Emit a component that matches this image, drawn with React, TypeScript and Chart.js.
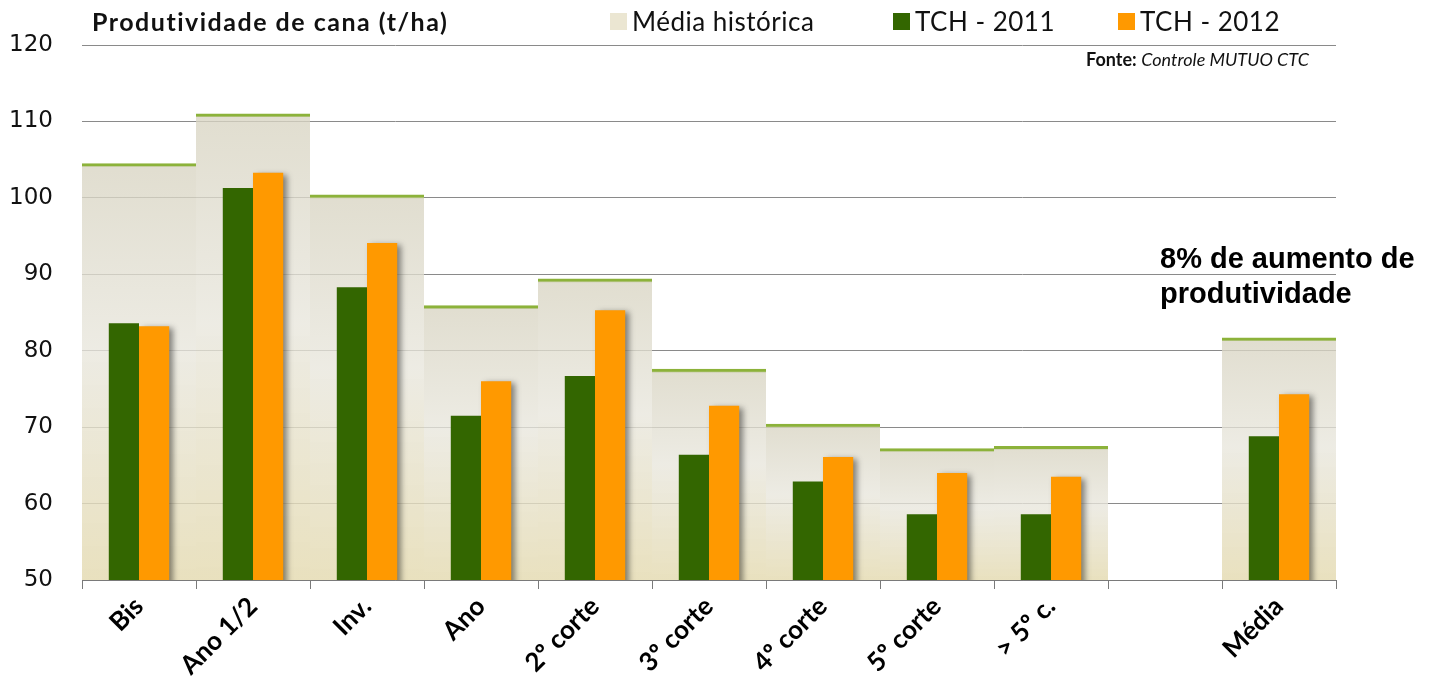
import React, { useEffect, useRef } from 'react';
import { Chart, registerables } from 'chart.js';

Chart.register(...registerables);

const categories = ['Bis', 'Ano 1/2', 'Inv.', 'Ano', '2º corte', '3º corte', '4º corte', '5º corte', '> 5º c.', '', 'Média'];
const mediaHistorica = [104.5, 111.0, 100.4, 85.9, 89.4, 77.6, 70.4, 67.2, 67.5, null, 81.7];
const tch2011 = [83.6, 101.3, 88.3, 71.5, 76.7, 66.4, 62.9, 58.6, 58.6, null, 68.8];
const tch2012 = [83.2, 103.3, 94.1, 76.0, 85.3, 72.8, 66.1, 64.0, 63.5, null, 74.3];
const yMin = 50;
const yMax = 120;
const yStep = 10;

const legendItems = [
  { label: 'Média histórica', color: '#ebe6d2', left: 610 },
  { label: 'TCH - 2011', color: '#336600', left: 893 },
  { label: 'TCH - 2012', color: '#ff9900', left: 1118 },
];

const shadowPlugin = {
  id: 'barShadow',
  beforeDatasetDraw(chart: any, args: any) {
    if (args.index !== 2) return;
    const c = chart.ctx;
    c.save();
    c.shadowColor = 'rgba(0,0,0,0.45)';
    c.shadowBlur = 6;
    c.shadowOffsetX = 4;
    c.shadowOffsetY = 2;
  },
  afterDatasetDraw(chart: any, args: any) {
    if (args.index !== 2) return;
    chart.ctx.restore();
  },
};

function bgGradient(ctx: any) {
  const chart = ctx.chart;
  const { chartArea, scales } = chart;
  if (!chartArea || ctx.type !== 'data' || ctx.raw == null) return 'rgba(220,216,200,0.78)';
  const top = scales.y.getPixelForValue(ctx.raw);
  const g = chart.ctx.createLinearGradient(0, top, 0, chartArea.bottom);
  g.addColorStop(0, 'rgba(216,212,194,0.78)');
  g.addColorStop(0.45, 'rgba(232,230,220,0.78)');
  g.addColorStop(1, 'rgba(228,218,176,0.82)');
  return g;
}

export default function App() {
  const canvasRef = useRef<HTMLCanvasElement | null>(null);

  useEffect(() => {
    document.body.style.margin = '0';
    const canvas = canvasRef.current;
    if (!canvas) return;
    const chart = new Chart(canvas, {
      type: 'bar',
      data: {
        labels: categories,
        datasets: [
          {
            label: 'Média histórica',
            data: mediaHistorica,
            backgroundColor: bgGradient,
            borderColor: '#8cb23a',
            borderWidth: { top: 3, left: 0, right: 0, bottom: 0 },
            borderSkipped: 'bottom',
            grouped: false,
            categoryPercentage: 1,
            barPercentage: 1,
            order: 2,
          },
          {
            label: 'TCH - 2011',
            data: tch2011,
            backgroundColor: '#336600',
            categoryPercentage: 0.53,
            barPercentage: 1,
            order: 1,
          },
          {
            label: 'TCH - 2012',
            data: tch2012,
            backgroundColor: '#ff9900',
            categoryPercentage: 0.53,
            barPercentage: 1,
            order: 1,
          },
        ] as any,
      },
      options: {
        responsive: false,
        animation: false,
        devicePixelRatio: 1,
        layout: { padding: { left: 0, top: 45, right: 100, bottom: 0 } },
        plugins: {
          legend: { display: false },
          title: { display: false },
          tooltip: { enabled: false },
        },
        scales: {
          x: {
            afterFit: (s: any) => { s.height = 97; },
            grid: {
              offset: true,
              drawOnChartArea: false,
              drawTicks: true,
              tickLength: 9,
              color: '#7a7a7a',
            },
            border: { display: true, color: '#7a7a7a', width: 1 },
            ticks: {
              autoSkip: false,
              maxRotation: 45,
              minRotation: 45,
              padding: 2,
              color: '#000',
              font: { family: 'Lato', size: 26, weight: 'bold' },
            },
          },
          y: {
            min: yMin,
            max: yMax,
            afterFit: (s: any) => { s.width = 82; },
            grid: { color: '#8a8a8a', drawTicks: false, lineWidth: 1 },
            border: { display: false },
            ticks: {
              stepSize: yStep,
              padding: 29,
              color: '#111',
              font: { family: 'DejaVu Sans', size: 23 },
            },
          },
        },
      },
      plugins: [shadowPlugin],
    });
    return () => chart.destroy();
  }, []);

  return (
    <div style={{ position: 'relative', width: 1436, height: 677, background: '#fff', overflow: 'hidden' }}>
      <canvas ref={canvasRef} width={1436} height={677} style={{ display: 'block' }} />
      <div style={{ position: 'absolute', left: 92, top: 6, fontFamily: 'Lato', fontWeight: 'bold', fontSize: 25, color: '#111', letterSpacing: 1.5, whiteSpace: 'nowrap' }}>
        Produtividade de cana (t/ha)
      </div>
      {legendItems.map((it) => (
        <div key={it.label} style={{ position: 'absolute', left: it.left, top: 5, display: 'flex', alignItems: 'center', whiteSpace: 'nowrap' }}>
          <span style={{ display: 'inline-block', width: 17, height: 17, background: it.color, marginRight: 5 }} />
          <span style={{ fontFamily: 'Lato', fontSize: 26, letterSpacing: 0.5, color: '#111' }}>{it.label}</span>
        </div>
      ))}
      <div style={{ position: 'absolute', right: 1436 - 1309, top: 48, fontFamily: 'Lato', fontSize: 18, color: '#111', whiteSpace: 'nowrap' }}>
        <b>Fonte:</b> <i>Controle MUTUO CTC</i>
      </div>
      <div style={{ position: 'absolute', left: 1160, top: 241, fontFamily: 'Liberation Sans, Arial', fontWeight: 'bold', fontSize: 29, lineHeight: '35px', color: '#000', whiteSpace: 'nowrap' }}>
        8% de aumento de<br />produtividade
      </div>
    </div>
  );
}
